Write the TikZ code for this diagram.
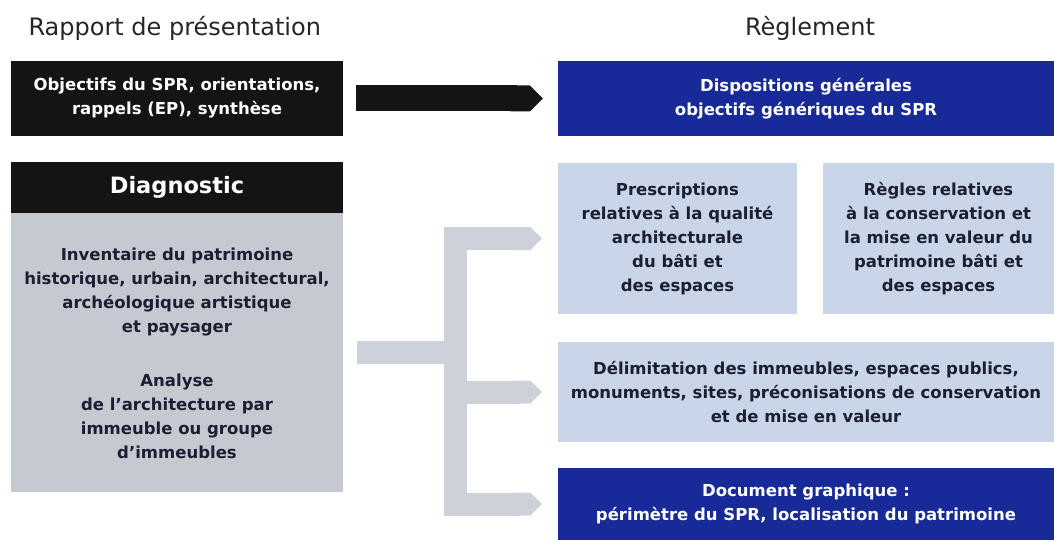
\documentclass[tikz,border=0pt]{standalone}
\usepackage{fontspec}
\setmainfont{DejaVu Sans}
\usetikzlibrary{positioning,calc,arrows.meta}

\definecolor{boxblack}{HTML}{141414}
\definecolor{regblue}{HTML}{182A98}
\definecolor{paleblue}{HTML}{C9D5E8}
\definecolor{diaggray}{HTML}{C5C9D0}
\definecolor{forkgray}{HTML}{CDD1D9}
\definecolor{inkblue}{HTML}{1B1F33}

\tikzset{
	box/.style={rectangle,inner sep=0pt,align=center,font=\fontsize{16.5}{24}\selectfont\bfseries},
	boxsize/.style 2 args={minimum width=#1pt,minimum height=#2pt},
	blackbox/.style={box,fill=boxblack,text=white},
	bluebox/.style={box,fill=regblue,text=white},
	palebox/.style={box,fill=paleblue,text=inkblue},
	graybox/.style={box,fill=diaggray,text=inkblue},
	title/.style={font=\fontsize{24}{28}\selectfont,text=black!85},
	fork/.style={draw=forkgray,line width=23pt,line join=miter},
	bigarrow/.style={draw=boxblack,line width=26pt},
}

\begin{document}
\begin{tikzpicture}[x=1pt,y=-1pt]
		\useasboundingbox (0,0) rectangle (1054,540);
		
		% headings of the two columns
		\node[title,anchor=west] (rapport) at (25,28) {Rapport de présentation};
		\node[title] (reglement) at (810,28) {Règlement};
		
		% left column: rapport de presentation
		\node[blackbox,boxsize={332}{75}] (objectifs) at (177,98.5) {Objectifs du SPR, orientations,\\rappels (EP), synthèse};
		\node[blackbox,boxsize={332}{51},font=\fontsize{22.5}{26}\selectfont\bfseries] (diaghead) at (177,187.5) {Diagnostic};
		\node[graybox,boxsize={332}{279},below=0pt of diaghead] (diagbody) {\rule{0pt}{12pt}Inventaire du patrimoine\\historique, urbain, architectural,\\archéologique artistique\\et paysager\\[30pt]Analyse\\de l'architecture par\\immeuble ou groupe\\d'immeubles};
		
		% right column: reglement
		\node[bluebox,boxsize={496}{75}] (dispositions) at (806,98.5) {Dispositions générales\\objectifs génériques du SPR};
		\node[palebox,boxsize={239}{151}] (prescriptions) at (677.5,238.5) {Prescriptions\\relatives à la qualité\\architecturale\\du bâti et\\des espaces};
		\node[palebox,boxsize={231}{151}] (regles) at (938.5,238.5) {Règles relatives\\à la conservation et\\la mise en valeur du\\patrimoine bâti et\\des espaces};
		\node[palebox,boxsize={496}{100}] (delimitation) at (806,392) {Délimitation des immeubles, espaces publics,\\monuments, sites, préconisations de conservation\\et de mise en valeur};
		\node[bluebox,boxsize={496}{72}] (docgraphique) at (806,504) {Document graphique :\\périmètre du SPR, localisation du patrimoine};
		
		% black arrow between the top boxes
		\draw[bigarrow,-{Triangle Cap}] ($(objectifs.east)+(13,0)$) -- ($(dispositions.west)+(-15,0)$);
		
		% grey fork from the diagnostic to the rules
		\coordinate (spine) at (455,0);
		\draw[fork] ($(diagbody.east)+(14,0)$) -- (spine |- diagbody.east);
		\draw[fork,{Triangle Cap}-{Triangle Cap}] ($(prescriptions.west)+(-16,0)$) -- (spine |- prescriptions.west) -- (spine |- docgraphique.west) -- ($(docgraphique.west)+(-16,0)$);
		\draw[fork,-{Triangle Cap}] (spine |- delimitation.west) -- ($(delimitation.west)+(-16,0)$);
\end{tikzpicture}
\end{document}
